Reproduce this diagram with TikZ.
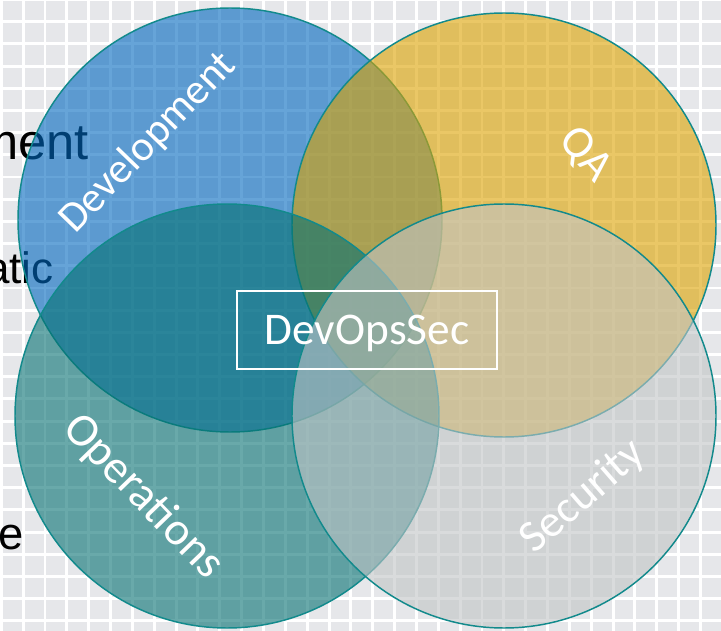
\documentclass[tikz,border=0pt]{standalone}
\usepackage{fontspec}
\newfontfamily\vennfont{Carlito}
\newfontfamily\slidefont{Liberation Sans}
\definecolor{slidebg}{RGB}{230,231,234}
\definecolor{ringteal}{RGB}{18,138,140}
\definecolor{devblue}{RGB}{0,104,191}
\definecolor{qagold}{RGB}{220,163,0}
\definecolor{opsteal}{RGB}{5,113,114}
\definecolor{secgray}{RGB}{193,196,197}
\tikzset{
	venn/.style={line width=1.1pt, draw=ringteal, fill opacity=0.6},
	venntext/.style={text=white, inner sep=0pt, font=\vennfont\fontsize{34}{40}\selectfont},
	slidetext/.style={anchor=base east, inner sep=0pt, text=black, font=\slidefont\fontsize{#1}{40}\selectfont},
	gridline/.style={white, line width=2.2pt}
}

\begin{document}
\begin{tikzpicture}[x=0.75pt, y=-0.75pt]
			%%%%% START %%%%%
			\useasboundingbox (0, 0) rectangle (721, 631);
			\clip (0, 0) rectangle (721, 631);
			\fill[slidebg] (0, 0) rectangle (721, 631);
			
			% slide grid
			\foreach \gx in {0,...,33}
				\draw[gridline] ({1.3+21.85*\gx}, 0) -- ({1.3+21.85*\gx}, 631);
			\foreach \gy in {0,...,29}
				\draw[gridline] (0, {-0.5+22.19*\gy}) -- (721, {-0.5+22.19*\gy});
			
			% slide text behind the diagram
			\node[slidetext=38] (ment) at (89, 160) {ment};
			\node[slidetext=33] (atic) at (54, 283) {atic};
			\node[slidetext=34] (e) at (23.5, 549) {e};
			
			% the four circles
			\draw[venn, fill=devblue] (230, 220) circle (212);
			\draw[venn, fill=qagold] (504, 225) circle (212);
			\draw[venn, fill=opsteal] (227, 416) circle (212);
			\draw[venn, fill=secgray] (504, 416) circle (212);
			
			\node[venntext, rotate=46, font=\vennfont\fontsize{32}{40}\selectfont] (dev) at (148, 143) {Development};
			\node[venntext, rotate=-48] (qa) at (585, 155) {QA};
			\node[venntext, rotate=-46, font=\vennfont\fontsize{35}{40}\selectfont] (ops) at (143, 497) {Operations};
			\node[venntext, rotate=41] (sec) at (583, 497) {Security};
			
			\node[venntext, draw=white, line width=1.1pt, minimum width=195pt, minimum height=58.5pt, text depth=0pt] (devopssec) at (367, 330) {DevOpsSec};
			%%%%% END %%%%%
\end{tikzpicture}
\end{document}
